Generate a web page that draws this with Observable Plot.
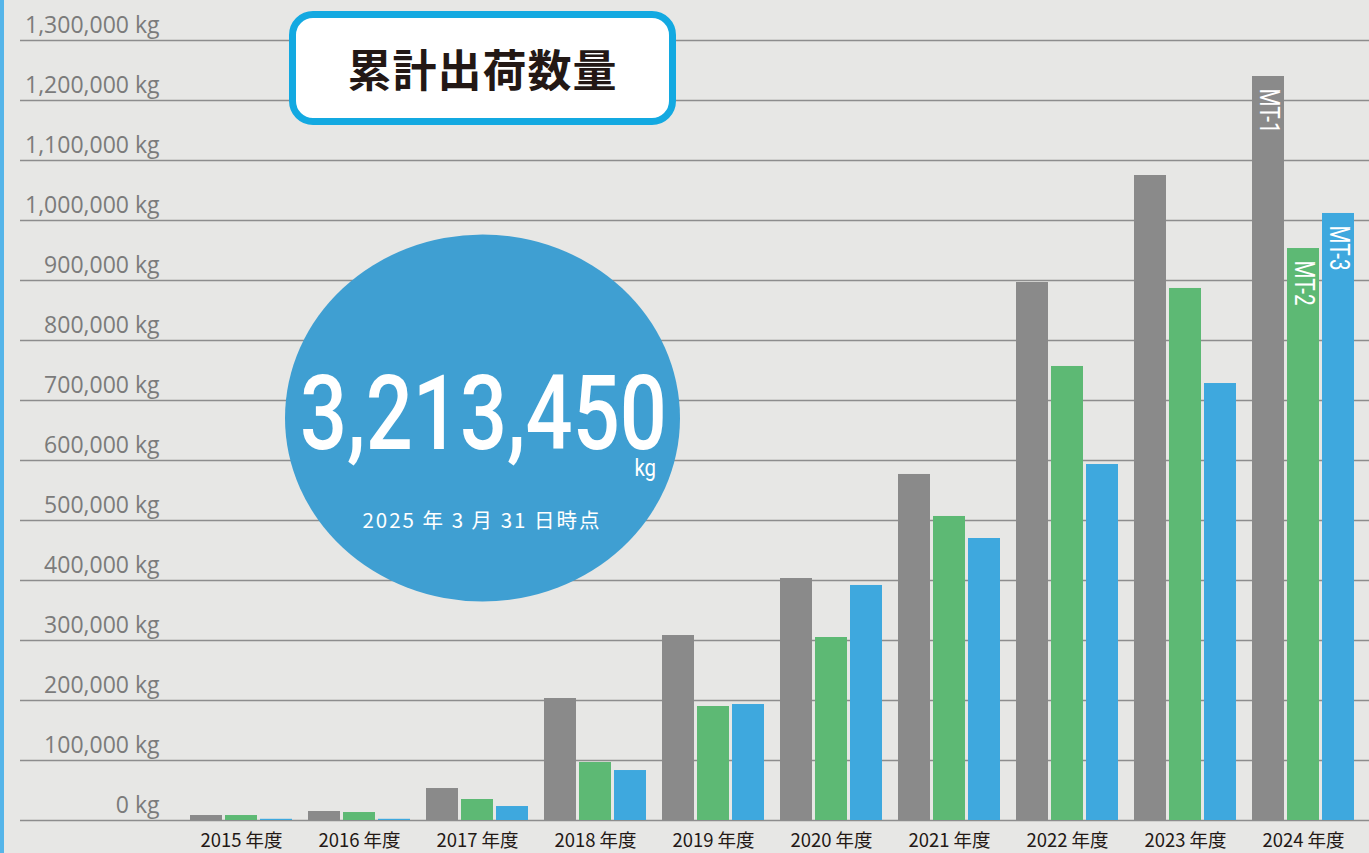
<!DOCTYPE html>
<html>
<head>
<meta charset="utf-8">
<script src="https://cdn.jsdelivr.net/npm/d3@7"></script>
<script src="https://cdn.jsdelivr.net/npm/@observablehq/plot@0.6"></script>
<style>
  html, body { margin: 0; padding: 0; background: #e7e7e5; }
  #wrap { position: relative; width: 1369px; height: 853px; overflow: hidden; background: #e7e7e5; }
  #wrap > svg { position: absolute; left: 0; top: 0; }
  #stripe { position: absolute; left: 0; top: 0; width: 4px; height: 853px; background: #55b5e9; }
  #title {
    position: absolute; left: 289px; top: 11px; width: 387px; height: 114px;
    box-sizing: border-box; border: 7px solid #13a9e1; border-radius: 24px; background: #fff;
    display: flex; align-items: center; justify-content: center;
    font-family: "Noto Sans CJK JP", sans-serif; font-weight: 700; font-size: 44px; color: #231815;
    letter-spacing: 1px;
  }
  #overlay { position: absolute; left: 0; top: 0; pointer-events: none; }
</style>
</head>
<body>
<div id="wrap">
  <div id="stripe"></div>
</div>
<script>
// ---- data ----
const years = ["2015", "2016", "2017", "2018", "2019", "2020", "2021", "2022", "2023", "2024"];
const mt1 = [8300, 15000, 53300, 203300, 308300, 403300, 576700, 896700, 1075000, 1240000];
const mt2 = [8300, 13300, 35000, 96700, 190000, 305000, 506700, 756700, 886700, 953300];
const mt3 = [2000, 2000, 23300, 83300, 193300, 391700, 470000, 593300, 728300, 1011700];
const seriesNames = ["MT-1", "MT-2", "MT-3"];
const seriesColors = ["#8a8a8a", "#5db974", "#3ea8de"];
const yTicks = [0, 100000, 200000, 300000, 400000, 500000, 600000, 700000, 800000, 900000, 1000000, 1100000, 1200000, 1300000];
const yearSuffix = " 年度";
const unit = " kg";
const titleText = "累計出荷数量";
const totalValue = [3213450];
const totalUnit = "kg";
const asOfText = "2025 年 3 月 31 日時点";

// ---- build table ----
const seriesValues = [mt1, mt2, mt3];
const rows = years.flatMap((y, i) => seriesNames.map((s, j) => ({year: y, series: s, value: seriesValues[j][i]})));

// bar placement inside each year band (style, not data)
const barW = 32, gap = 3;
const layout = seriesNames.map((s, j) => ({
  insetLeft: j * (barW + gap),
  insetRight: (seriesNames.length - 1 - j) * (barW + gap),
  dx: (j - 1) * (barW + gap)
}));

const fmt = d3.format(",");
const lastYear = years[years.length - 1];

const marks = [
  Plot.ruleY(yTicks, {stroke: "#8d8d8d", strokeWidth: 1.3}),
  Plot.text(yTicks, {
    y: d => d, text: d => fmt(d) + unit, frameAnchor: "left", dx: 139, dy: -8,
    textAnchor: "end", lineAnchor: "bottom", fontSize: 23, fill: "#7b7b7b", fontFamily: "Open Sans"
  })
];
seriesNames.forEach((s, j) => {
  marks.push(Plot.barY(rows.filter(r => r.series === s), {
    x: "year", y: "value", fill: seriesColors[j],
    insetLeft: layout[j].insetLeft, insetRight: layout[j].insetRight
  }));
});
marks.push(Plot.text(years, {
  x: d => d, text: d => d + yearSuffix, frameAnchor: "bottom", lineAnchor: "top", dy: 13,
  fontSize: 18.5, fill: "#231815", fontFamily: "Noto Sans CJK JP"
}));
seriesNames.forEach((s, j) => {
  marks.push(Plot.text(rows.filter(r => r.series === s && r.year === lastYear), {
    x: "year", y: "value", text: "series", rotate: 90, textAnchor: "start", lineAnchor: "middle",
    dx: layout[j].dx, dy: 12, fill: "white", fontSize: 28, fontFamily: "Roboto"
  }));
});

const chart = Plot.plot({
  width: 1369, height: 853,
  marginTop: 40, marginBottom: 33, marginLeft: 20, marginRight: 0,
  style: {background: "transparent", overflow: "visible"},
  x: {type: "band", domain: years, range: [190, 1354], paddingInner: 0.136, paddingOuter: 0, axis: null},
  y: {domain: [0, 1300000], axis: null},
  marks
});
// condense the rotated series labels
chart.querySelectorAll("text[transform*='rotate']").forEach(t => {
  t.setAttribute("transform", t.getAttribute("transform") + " scale(0.74,1)");
});
const wrap = document.getElementById("wrap");
wrap.appendChild(chart);

// ---- annotations ----
const title = document.createElement("div");
title.id = "title";
title.textContent = titleText;
wrap.appendChild(title);

const ov = d3.create("svg").attr("id", "overlay").attr("width", 1369).attr("height", 853);
ov.append("ellipse").attr("cx", 482.5).attr("cy", 418).attr("rx", 197.5).attr("ry", 183.5).attr("fill", "#3f9fd2");
ov.append("text").attr("transform", "translate(300,449) scale(0.805,1)")
  .attr("font-family", "Roboto").attr("font-weight", 500).attr("font-size", 103).attr("fill", "white")
  .text(fmt(totalValue[0]));
ov.append("text").attr("transform", "translate(656,476) scale(0.85,1)").attr("text-anchor", "end")
  .attr("font-family", "Roboto").attr("font-size", 24).attr("fill", "white").text(totalUnit);
ov.append("text").attr("x", 482).attr("y", 528).attr("text-anchor", "middle")
  .attr("font-family", "Noto Sans CJK JP").attr("font-size", 20.5).attr("letter-spacing", 2).attr("fill", "white")
  .text(asOfText);
wrap.appendChild(ov.node());
</script>
</body>
</html>
